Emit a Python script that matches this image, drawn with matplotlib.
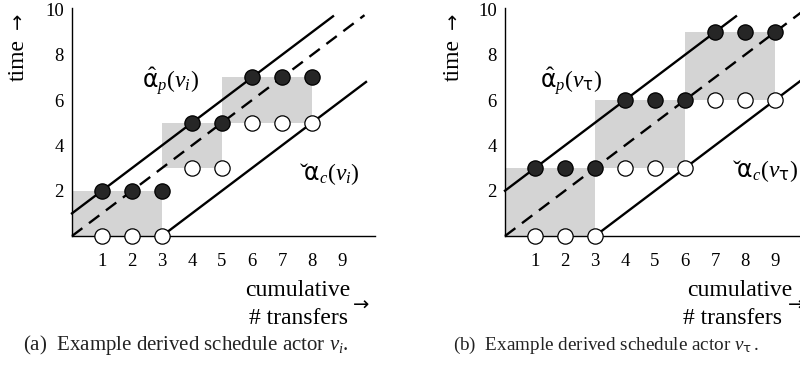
import matplotlib
matplotlib.use("Agg")
import matplotlib.pyplot as plt
from matplotlib.patches import Rectangle

plt.rcParams["font.family"] = ["Liberation Serif", "DejaVu Serif"]
plt.rcParams["mathtext.fontset"] = "custom"
plt.rcParams["mathtext.rm"] = "Liberation Serif"
plt.rcParams["mathtext.it"] = "Liberation Serif:italic"
plt.rcParams["mathtext.sf"] = "DejaVu Sans"
plt.rcParams["mathtext.fallback"] = "stix"

W, H = 800, 367

# ── data ─────────────────────────────────────────────────────────────────────
X_TICKS = [1, 2, 3, 4, 5, 6, 7, 8, 9]
Y_TICKS = [2, 4, 6, 8, 10]

# panel (a): actor v_i
A_FILLED_X = [1, 2, 3, 4, 5, 6, 7, 8]
A_FILLED_Y = [2, 2, 2, 5, 5, 7, 7, 7]
A_OPEN_X   = [1, 2, 3, 4, 5, 6, 7, 8]
A_OPEN_Y   = [0, 0, 0, 3, 3, 5, 5, 5]
A_RECTS    = [(0, 0, 3, 2), (3, 3, 2, 2), (5, 5, 3, 2)]   # x, y, w, h
A_UPPER    = ([0, 8.7], [1, 9.7])
A_MID      = ([0, 9.75], [0, 9.75])
A_LOWER    = ([3, 9.8], [0, 6.8])

# panel (b): actor v_tau
B_FILLED_X = [1, 2, 3, 4, 5, 6, 7, 8, 9]
B_FILLED_Y = [3, 3, 3, 6, 6, 6, 9, 9, 9]
B_OPEN_X   = [1, 2, 3, 4, 5, 6, 7, 8, 9]
B_OPEN_Y   = [0, 0, 0, 3, 3, 3, 6, 6, 6]
B_RECTS    = [(0, 0, 3, 3), (3, 3, 3, 3), (6, 6, 3, 3)]
B_UPPER    = ([0, 7.7], [2, 9.7])
B_MID      = ([0, 10.1], [0, 10.1])
B_LOWER    = ([3, 10.1], [0, 7.1])


def fx(x):
    return x / W


def fy(y):
    return 1 - y / H


def panel(fig, x0, rects, upper, mid, lower, fx_, fy_, ox_, oy_, lab_p, lab_c,
          pos_p, pos_c):
    # axes: origin at pixel (x0, 236), 30 px per x unit, 22.65 px per y unit
    xmax, ymax = 10.1, 10.05
    ax = fig.add_axes([fx(x0), fy(236), 30 * xmax / W, 22.65 * ymax / H])
    ax.set_xlim(0, xmax)
    ax.set_ylim(0, ymax)
    for s in ("top", "right"):
        ax.spines[s].set_visible(False)
    for s in ("left", "bottom"):
        ax.spines[s].set_linewidth(1.0)
        ax.spines[s].set_zorder(4)
    ax.set_xticks(X_TICKS)
    ax.set_yticks(Y_TICKS)
    ax.tick_params(axis="x", length=0, pad=12, labelsize=13.5)
    ax.tick_params(axis="y", length=0, pad=6, labelsize=13.5)

    for (rx, ry, rw, rh) in rects:
        ax.add_patch(Rectangle((rx, ry), rw, rh, facecolor="#d4d4d4",
                               edgecolor="none", zorder=1))

    ax.plot(*upper, color="black", lw=1.7, zorder=3, clip_on=False)
    ax.plot(*mid, color="black", lw=1.7, ls=(0, (5.5, 3.5)), zorder=3, clip_on=False)
    ax.plot(*lower, color="black", lw=1.7, zorder=3, clip_on=False)

    ax.plot(fx_, fy_, "o", ms=11, mfc="#262626", mec="black", mew=0.9,
            zorder=5, clip_on=False)
    ax.plot(ox_, oy_, "o", ms=11, mfc="white", mec="black", mew=0.9,
            zorder=5, clip_on=False)

    ax.text(*pos_p, lab_p, fontsize=17, ha="left", va="center", zorder=6)
    ax.text(*pos_c, lab_c, fontsize=17, ha="left", va="center", zorder=6)
    return ax


fig = plt.figure(figsize=(W / 100, H / 100), dpi=100)

panel(fig, 72, A_RECTS, A_UPPER, A_MID, A_LOWER,
      A_FILLED_X, A_FILLED_Y, A_OPEN_X, A_OPEN_Y,
      r"$\hat{\mathsf{\alpha}}_p(v_i)$", r"$\check{\mathsf{\alpha}}_c(v_i)$",
      (2.35, 6.8), (7.6, 2.75))

panel(fig, 505, B_RECTS, B_UPPER, B_MID, B_LOWER,
      B_FILLED_X, B_FILLED_Y, B_OPEN_X, B_OPEN_Y,
      r"$\hat{\mathsf{\alpha}}_p(v_{\mathsf{\tau}})$",
      r"$\check{\mathsf{\alpha}}_c(v_{\mathsf{\tau}})$",
      (1.15, 6.8), (7.6, 2.85))

# y-axis titles: "time" plus an arrow
for cx in (18, 453):
    fig.text(fx(cx), fy(60), "time", rotation=90, fontsize=17,
             ha="center", va="center")
    fig.text(fx(cx), fy(21), "→", rotation=90, fontsize=14,
             family="DejaVu Sans", ha="center", va="center")

# x-axis titles
fig.text(fx(350), fy(290), "cumulative", fontsize=17, ha="right", va="center")
fig.text(fx(348), fy(318), "# transfers", fontsize=17, ha="right", va="center")
fig.text(fx(353), fy(305), "→", fontsize=14, family="DejaVu Sans",
         ha="left", va="center")

fig.text(fx(792), fy(290), "cumulative", fontsize=17, ha="right", va="center")
fig.text(fx(782), fy(318), "# transfers", fontsize=17, ha="right", va="center")
fig.text(fx(788), fy(305), "→", fontsize=14, family="DejaVu Sans",
         ha="left", va="center")

# captions
fig.text(fx(23), fy(345), r"(a)  Example derived schedule actor $v_i$.",
         fontsize=15, ha="left", va="center", color="#222222")
fig.text(fx(453), fy(345),
         r"(b)  Example derived schedule actor $v_{\mathsf{\tau}}\,$.",
         fontsize=13.8, ha="left", va="center", color="#222222")

fig.savefig("out.png", dpi=100)
